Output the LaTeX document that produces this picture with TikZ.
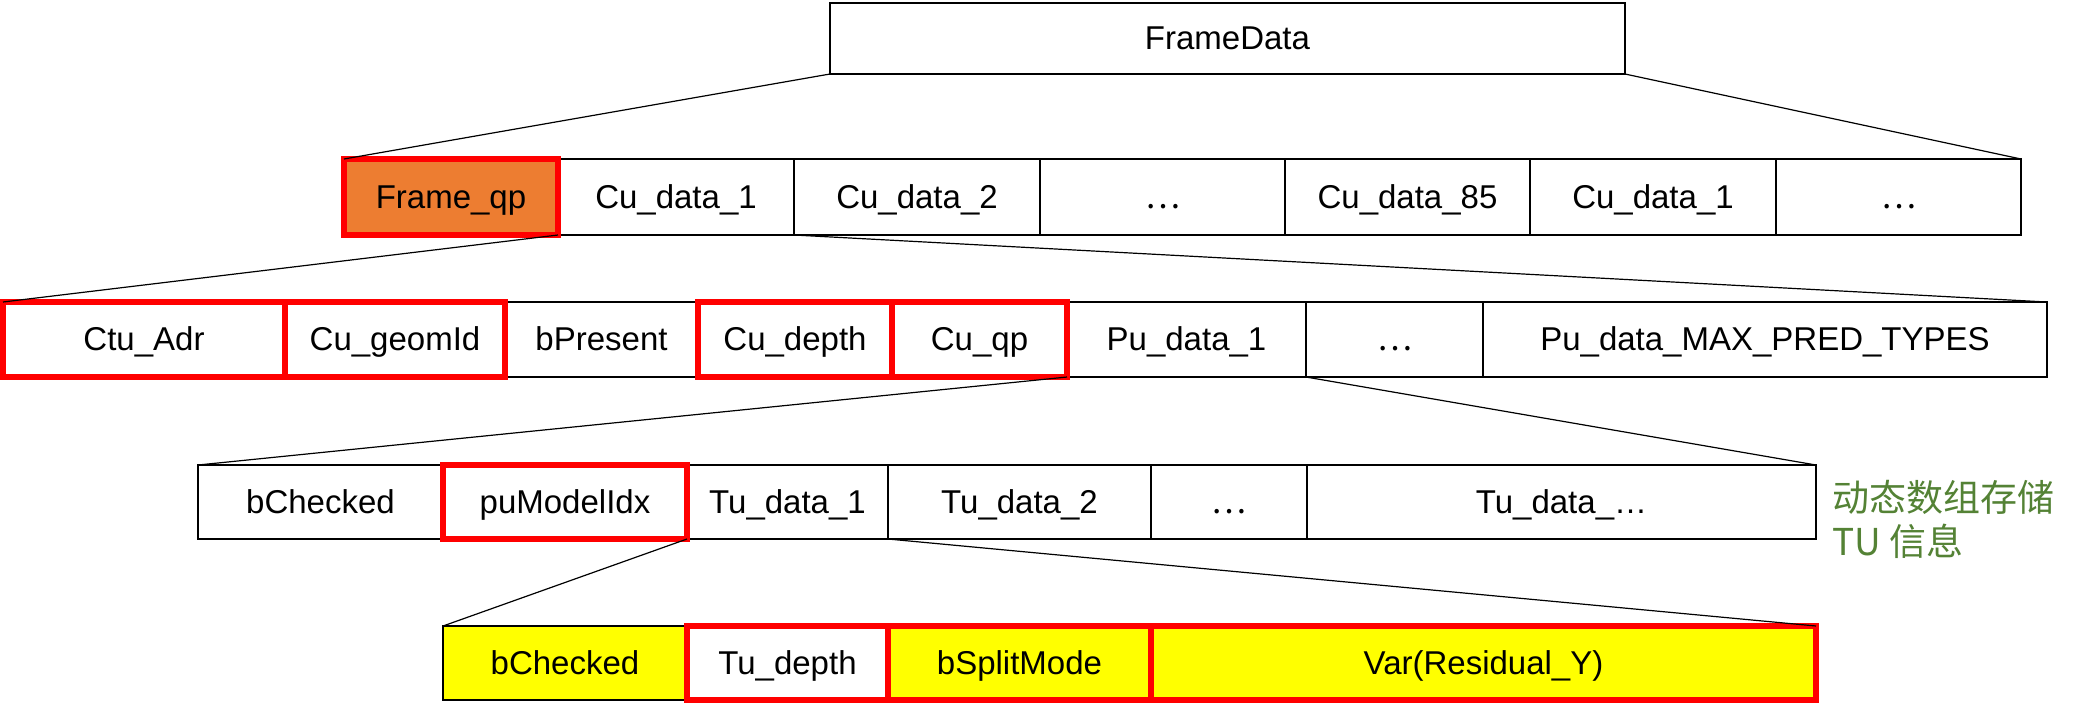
\documentclass[tikz,border=0pt]{standalone}
\usepackage{fontspec}
\setmainfont{Liberation Sans}
\newfontfamily\cjk{Noto Sans CJK SC}
\definecolor{framefill}{HTML}{ED7D31}
\definecolor{tufill}{HTML}{FFFF00}
\definecolor{notegreen}{HTML}{548235}
\begin{document}
\begin{tikzpicture}[x=0.5pt,y=-0.5pt,
  cellbox/.style={draw=black, line width=1pt, inner sep=0pt, outer sep=0pt, anchor=north west,
    font=\fontsize{16.5pt}{19pt}\selectfont, text height=1.1em, text depth=0pt},
  redbox/.style={cellbox, draw=red, line width=3pt},
  link/.style={line width=0.6pt},
  note/.style={text=notegreen, font=\cjk\fontsize{18.5pt}{22pt}\selectfont, anchor=west, inner sep=0pt}]
\useasboundingbox (0,0) rectangle (2079,709);
% row 0
\node[cellbox, minimum width=397.5pt, minimum height=35.5pt] (fd) at (830,3) {FrameData};
% row 1
\begin{scope}[every node/.append style={minimum height=38pt}]
\node[cellbox, minimum width=118pt] (cu1) at (558,159) {Cu\_data\_1};
\node[cellbox, minimum width=123pt] (cu2) at (794,159) {Cu\_data\_2};
\node[cellbox, minimum width=122.5pt] (cud) at (1040,159) {{\cjk …}};
\node[cellbox, minimum width=122.5pt] (cu85) at (1285,159) {Cu\_data\_85};
\node[cellbox, minimum width=123pt] (cu1b) at (1530,159) {Cu\_data\_1};
\node[cellbox, minimum width=122.5pt] (cue) at (1776,159) {{\cjk …}};
\end{scope}
% row 2
\begin{scope}[every node/.append style={minimum height=37.5pt}]
\node[cellbox, minimum width=96.5pt] (bp) at (505,302) {bPresent};
\node[cellbox, minimum width=119.5pt] (pu1) at (1067,302) {Pu\_data\_1};
\node[cellbox, minimum width=88.5pt] (pud) at (1306,302) {{\cjk …}};
\node[cellbox, minimum width=282pt] (pumax) at (1483,302) {Pu\_data\_MAX\_PRED\_TYPES};
\end{scope}
% row 3
\begin{scope}[every node/.append style={minimum height=37pt}]
\node[cellbox, minimum width=122.5pt] (bc) at (198,465) {bChecked};
\node[cellbox, minimum width=100.5pt] (tu1) at (687,465) {Tu\_data\_1};
\node[cellbox, minimum width=131.5pt] (tu2) at (888,465) {Tu\_data\_2};
\node[cellbox, minimum width=78pt] (tud) at (1151,465) {{\cjk …}};
\node[cellbox, minimum width=254.5pt] (tun) at (1307,465) {Tu\_data\_…};
\end{scope}
% row 4
\node[cellbox, fill=tufill, minimum width=122pt, minimum height=37pt] (bc2) at (443,626) {bChecked};
% red boxes
\node[redbox, fill=framefill, minimum width=107pt, minimum height=38pt] (fqp) at (344,159) {Frame\_qp};
\begin{scope}[every node/.append style={minimum height=37.5pt}]
\node[redbox, minimum width=141pt] (ctu) at (3,302) {Ctu\_Adr};
\node[redbox, minimum width=110pt] (geom) at (285,302) {Cu\_geomId};
\node[redbox, minimum width=97pt] (cdep) at (698,302) {Cu\_depth};
\node[redbox, minimum width=87.5pt] (cqp) at (892,302) {Cu\_qp};
\end{scope}
\node[redbox, minimum width=122pt, minimum height=37pt] (pmi) at (443,465) {puModelIdx};
\begin{scope}[every node/.append style={minimum height=37pt}]
\node[redbox, minimum width=100.5pt] (tdep) at (687,626) {Tu\_depth};
\node[redbox, fill=tufill, minimum width=131.5pt] (bsm) at (888,626) {bSplitMode};
\node[redbox, fill=tufill, minimum width=332.5pt] (var) at (1151,626) {Var(Residual\_Y)};
\end{scope}
% connectors
\draw[link] (fd.south west) -- (fqp.north west);
\draw[link] (fd.south east) -- (cue.north east);
\draw[link] (fqp.south east) -- (ctu.north west);
\draw[link] (cu1.south east) -- (pumax.north east);
\draw[link] (cqp.south east) -- (bc.north west);
\draw[link] (pu1.south east) -- (tun.north east);
\draw[link] (pmi.south east) -- (bc2.north west);
\draw[link] (tu1.south east) -- (var.north east);
% note
\node[note] (n1) at (1832,497) {动态数组存储};
\node[note] (n2) at (1832,541) {TU 信息};
\end{tikzpicture}
\end{document}
